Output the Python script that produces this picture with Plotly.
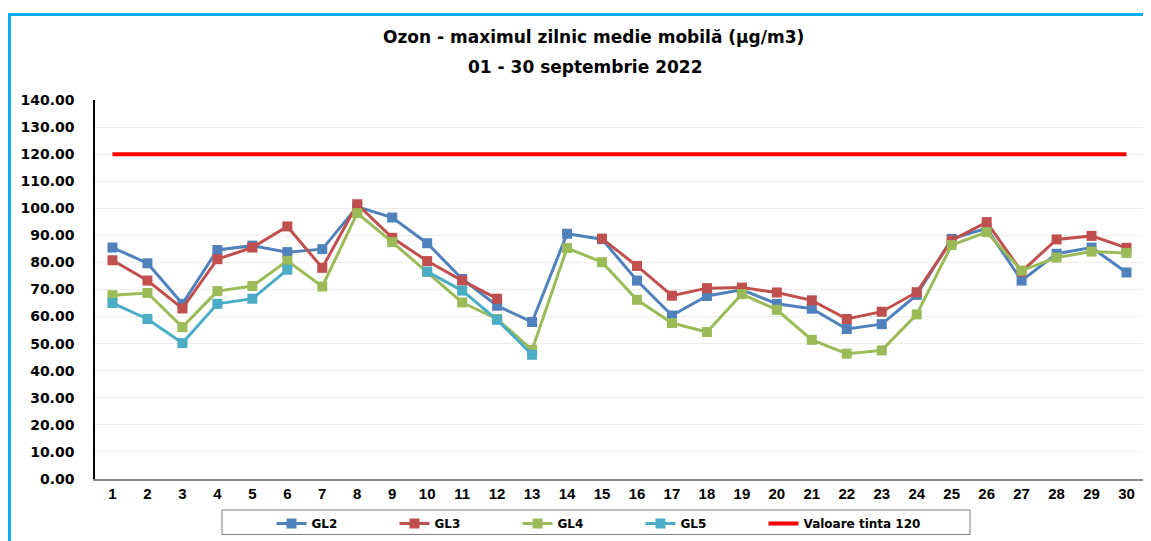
import plotly.graph_objects as go

days = list(range(1, 31))
day_labels = [str(d) for d in days]

gl2 = [85.5, 79.7, 64.7, 84.6, 86.2, 83.8, 84.9, 100.6, 96.6, 87.1,
       73.9, 64.0, 58.0, 90.6, 88.6, 73.3, 60.4, 67.6, 69.9, 64.7,
       62.9, 55.4, 57.2, 68.0, 88.7, 92.6, 73.3, 83.2, 85.5, 76.3]
gl3 = [80.8, 73.3, 63.0, 81.2, 85.5, 93.3, 78.0, 101.5, 89.1, 80.5,
       73.3, 66.6, None, None, 88.8, 78.7, 67.7, 70.5, 70.7, 68.9,
       66.0, 59.1, 61.8, 69.0, 88.1, 94.9, 76.6, 88.5, 89.8, 85.4]
gl4 = [67.9, 68.7, 56.1, 69.4, 71.3, 80.6, 71.1, 98.2, 87.5, 76.5,
       65.2, 59.1, 47.7, 85.3, 80.1, 66.2, 57.6, 54.3, 68.3, 62.5,
       51.4, 46.3, 47.5, 60.8, 86.4, 91.2, 77.0, 81.8, 84.0, 83.5]
gl5 = [65.0, 59.1, 50.2, 64.7, 66.6, 77.3, None, None, None, 76.6,
       69.6, 58.8, 45.9, None, None, None, None, None, None, None,
       None, None, None, None, None, None, None, None, None, None]
target = [120] * 30

series = [
    ("GL2", gl2, "#4F81BD"),
    ("GL3", gl3, "#C0504D"),
    ("GL4", gl4, "#9BBB59"),
    ("GL5", gl5, "#4BACC6"),
]

fig = go.Figure()
for name, vals, col in series:
    fig.add_trace(go.Scatter(
        x=days, y=vals, name=name, mode="lines+markers",
        line=dict(color=col, width=3),
        marker=dict(symbol="square", size=10, color=col),
        connectgaps=False,
    ))
fig.add_trace(go.Scatter(
    x=days, y=target, name="Valoare tinta 120", mode="lines",
    line=dict(color="#FF0000", width=4),
))
# invisible spacer entry so the last legend label is not clipped
fig.add_trace(go.Scatter(
    x=[None], y=[None], name=" ", mode="lines",
    line=dict(color="rgba(0,0,0,0)", width=0), hoverinfo="skip",
))

# page body adds an 8px offset; positions below are given in screen pixels
OFF = 8
W, H = 1151 - OFF, 541 - OFF
L, R, T, B = 95 - OFF, 7, 100 - OFF, 62
pw, ph = W - L - R, H - T - B

def px_x(p):
    return (p - OFF - L) / pw

def px_y(p):
    return (H - B - (p - OFF)) / ph

fig.update_layout(
    width=W, height=H,
    margin=dict(l=L, r=R, t=T, b=B, autoexpand=False),
    paper_bgcolor="white", plot_bgcolor="white",
    showlegend=True,
    legend=dict(
        orientation="h", x=px_x(271.5), xanchor="left",
        y=px_y(509), yanchor="top",
        font=dict(family="DejaVu Sans", size=12, color="#000000", weight="bold"),
        entrywidth=78, entrywidthmode="pixels",
        bgcolor="rgba(0,0,0,0)", borderwidth=0,
    ),
    xaxis=dict(
        range=[0.5, 30.5], tickmode="array", tickvals=days, ticktext=day_labels,
        showgrid=False, zeroline=False, showline=True, linecolor="#888888", linewidth=2,
        ticks="", ticklabelstandoff=0,
        tickfont=dict(family="Liberation Sans", size=15, color="#000000", weight="bold"),
    ),
    yaxis=dict(
        range=[0, 140], dtick=10, tickformat=".2f",
        showgrid=True, gridcolor="#EEEEE6", gridwidth=1, zeroline=False,
        showline=True, linecolor="#000000", linewidth=1.5,
        ticks="", ticklabelstandoff=16,
        tickfont=dict(family="DejaVu Sans", size=14, color="#000000", weight="bold"),
    ),
    annotations=[
        dict(text="Ozon - maximul zilnic medie mobilă (µg/m3)", xref="paper", yref="paper",
             x=px_x(593), y=px_y(37), xanchor="center", yanchor="middle", showarrow=False,
             font=dict(family="DejaVu Sans", size=17, color="#000000", weight="bold")),
        dict(text="01 - 30 septembrie 2022", xref="paper", yref="paper",
             x=px_x(585), y=px_y(67.5), xanchor="center", yanchor="middle", showarrow=False,
             font=dict(family="DejaVu Sans", size=17, color="#000000", weight="bold")),
    ],
    shapes=[
        dict(type="line", xref="paper", yref="paper", x0=px_x(9.5), x1=px_x(9.5),
             y0=px_y(14.5), y1=px_y(560), line=dict(color="#00B0F0", width=3)),
        dict(type="line", xref="paper", yref="paper", x0=px_x(8), x1=px_x(1160),
             y0=px_y(14.5), y1=px_y(14.5), line=dict(color="#00B0F0", width=3)),
        dict(type="rect", xref="paper", yref="paper", x0=px_x(222), x1=px_x(970),
             y0=px_y(534.5), y1=px_y(510), line=dict(color="#7F7F7F", width=1)),
    ],
)

fig.write_html("out.html")
